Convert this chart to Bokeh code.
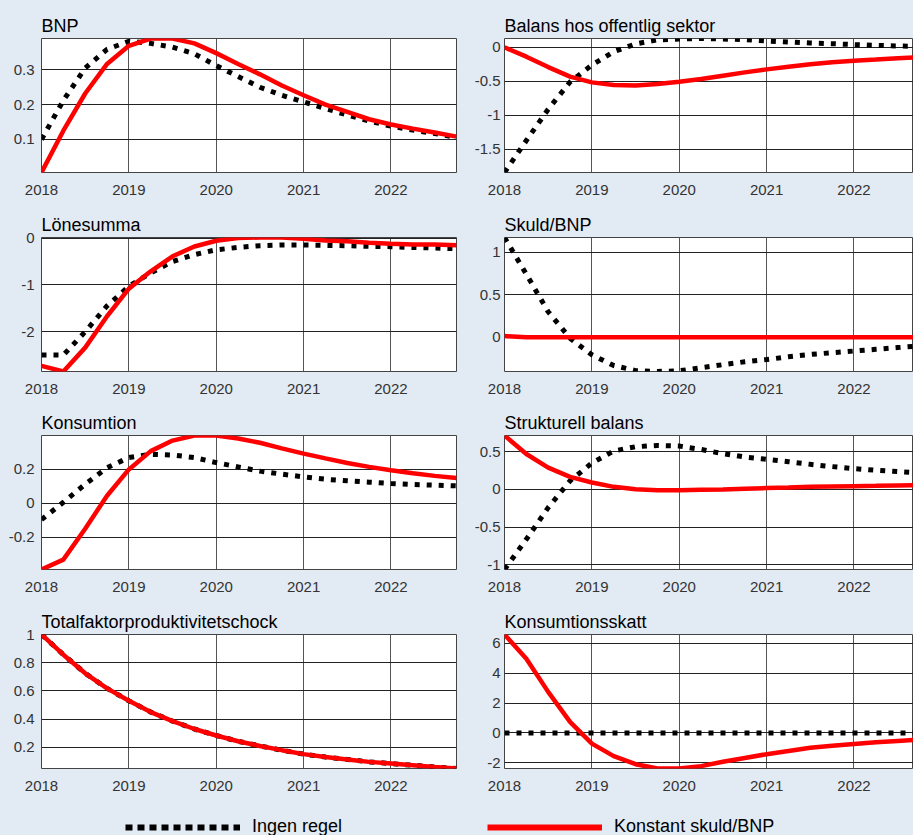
from bokeh.plotting import figure
from bokeh.models import Range1d, Legend, LegendItem
from bokeh.layouts import column, row
from bokeh.embed import file_html
from bokeh.resources import INLINE

BG = "#e2eaf3"
FONT = "Liberation Sans"

quarters = [2018.0, 2018.25, 2018.5, 2018.75, 2019.0, 2019.25, 2019.5, 2019.75,
            2020.0, 2020.25, 2020.5, 2020.75, 2021.0, 2021.25, 2021.5, 2021.75,
            2022.0, 2022.25, 2022.5, 2022.75]
year_ticks = [2018, 2019, 2020, 2021, 2022]
year_labels = ["2018", "2019", "2020", "2021", "2022"]

series_names = ["Ingen regel", "Konstant skuld/BNP"]

# BNP
bnp_ingen = [0.10, 0.212, 0.305, 0.359, 0.382, 0.376, 0.365, 0.346, 0.312, 0.281,
             0.25, 0.227, 0.208, 0.189, 0.17, 0.153, 0.138, 0.127, 0.117, 0.106]
bnp_konst = [0.005, 0.125, 0.232, 0.317, 0.369, 0.39, 0.39, 0.376, 0.348, 0.317,
             0.287, 0.255, 0.227, 0.20, 0.179, 0.158, 0.143, 0.131, 0.12, 0.108]
bnp_ticks = [0.1, 0.2, 0.3]
bnp_tick_labels = ["0.1", "0.2", "0.3"]

# Balans hos offentlig sektor
balans_ingen = [-1.84, -1.37, -0.91, -0.51, -0.26, -0.064, 0.05, 0.11, 0.123, 0.13,
                0.123, 0.113, 0.093, 0.078, 0.064, 0.054, 0.04, 0.03, 0.02, 0.015]
balans_konst = [0.0, -0.137, -0.29, -0.43, -0.515, -0.554, -0.56, -0.54, -0.505, -0.466,
                -0.417, -0.368, -0.324, -0.284, -0.25, -0.22, -0.196, -0.18, -0.16, -0.147]
balans_ticks = [-1.5, -1, -0.5, 0]
balans_tick_labels = ["-1.5", "-1", "-0.5", "0"]

# Lönesumma
lone_ingen = [-2.5, -2.5, -2.0, -1.45, -1.03, -0.745, -0.5, -0.355, -0.25, -0.2,
              -0.163, -0.149, -0.149, -0.156, -0.163, -0.177, -0.184, -0.2, -0.213, -0.227]
lone_konst = [-2.73, -2.85, -2.34, -1.67, -1.08, -0.71, -0.39, -0.18, -0.057, 0.0,
              0.012, 0.012, -0.014, -0.05, -0.07, -0.1, -0.12, -0.135, -0.14, -0.156]
lone_ticks = [-2, -1, 0]
lone_tick_labels = ["-2", "-1", "0"]

# Skuld/BNP
skuld_ingen = [1.17, 0.74, 0.30, -0.01, -0.205, -0.33, -0.39, -0.4, -0.392, -0.355,
               -0.32, -0.286, -0.26, -0.228, -0.2, -0.18, -0.16, -0.14, -0.12, -0.1]
skuld_konst = [0.015, 0.0, 0.0, 0.0, 0.0, 0.0, 0.0, 0.0, 0.0, 0.0,
               0.0, 0.0, 0.0, 0.0, 0.0, 0.0, 0.0, 0.0, 0.0, 0.0]
skuld_ticks = [0, 0.5, 1]
skuld_tick_labels = ["0", "0.5", "1"]

# Konsumtion
kons_ingen = [-0.096, 0.006, 0.113, 0.21, 0.27, 0.289, 0.285, 0.27, 0.24, 0.215,
              0.19, 0.172, 0.156, 0.142, 0.133, 0.125, 0.117, 0.111, 0.107, 0.103]
kons_konst = [-0.39, -0.332, -0.15, 0.045, 0.2, 0.308, 0.37, 0.4, 0.4, 0.382,
              0.357, 0.324, 0.293, 0.265, 0.238, 0.215, 0.195, 0.178, 0.162, 0.15]
kons_ticks = [-0.2, 0, 0.2]
kons_tick_labels = ["-0.2", "0", "0.2"]

# Strukturell balans
strukt_ingen = [-1.06, -0.66, -0.24, 0.114, 0.35, 0.51, 0.566, 0.583, 0.575, 0.53,
                0.474, 0.43, 0.4, 0.368, 0.333, 0.303, 0.276, 0.254, 0.237, 0.22]
strukt_konst = [0.715, 0.47, 0.29, 0.167, 0.092, 0.035, 0.004, -0.009, -0.009, -0.004,
                0.0, 0.009, 0.018, 0.026, 0.035, 0.04, 0.044, 0.048, 0.053, 0.057]
strukt_ticks = [-1, -0.5, 0, 0.5]
strukt_tick_labels = ["-1", "-0.5", "0", "0.5"]

# Totalfaktorproduktivitetschock
tfp_ingen = [1.0, 0.857, 0.725, 0.618, 0.53, 0.45, 0.386, 0.33, 0.284, 0.243,
             0.21, 0.18, 0.152, 0.131, 0.114, 0.097, 0.085, 0.073, 0.061, 0.05]
tfp_konst = [1.0, 0.857, 0.725, 0.618, 0.53, 0.45, 0.386, 0.33, 0.284, 0.243,
             0.21, 0.18, 0.152, 0.131, 0.114, 0.097, 0.085, 0.073, 0.061, 0.05]
tfp_ticks = [0.2, 0.4, 0.6, 0.8, 1]
tfp_tick_labels = ["0.2", "0.4", "0.6", "0.8", "1"]

# Konsumtionsskatt
skatt_ingen = [0.0, 0.0, 0.0, 0.0, 0.0, 0.0, 0.0, 0.0, 0.0, 0.0,
               0.0, 0.0, 0.0, 0.0, 0.0, 0.0, 0.0, 0.0, 0.0, 0.0]
skatt_konst = [6.6, 4.98, 2.75, 0.74, -0.72, -1.56, -2.1, -2.39, -2.39, -2.23,
               -1.94, -1.68, -1.43, -1.21, -1.0, -0.87, -0.74, -0.63, -0.54, -0.45]
skatt_ticks = [-2, 0, 2, 4, 6]
skatt_tick_labels = ["-2", "0", "2", "4", "6"]

BG_STYLE = {"background-color": BG}


def make_panel(title, ingen, konst, yticks, ylabels, col, height, top):
    lo = min(min(ingen), min(konst))
    hi = max(max(ingen), max(konst))
    if col == 0:
        width, left, right, x_end, ystand = 471, 41, 15, 2022.75, 7
    else:
        width, left, right, x_end, ystand = 442, 33, 0, 2022.681, 4
    p = figure(width=width, height=height, title=title,
               x_range=Range1d(2018, x_end), y_range=Range1d(lo, hi),
               toolbar_location=None, output_backend="svg",
               min_border_left=left, min_border_right=right,
               min_border_top=top, min_border_bottom=height - top - 134,
               background_fill_color="white", border_fill_color=BG,
               styles=BG_STYLE)
    p.title.text_font = FONT
    p.title.text_font_size = "18px"
    p.title.text_font_style = "normal"
    p.title.text_color = "black"
    p.title.standoff = 5
    p.outline_line_color = "#444444"
    p.outline_line_width = 1

    p.xaxis.ticker = year_ticks
    p.xaxis.major_label_overrides = dict(zip(year_ticks, year_labels))
    p.yaxis.ticker = yticks
    p.yaxis.major_label_overrides = dict(zip(yticks, ylabels))
    for ax in (p.xaxis, p.yaxis):
        ax.axis_line_color = None
        ax.major_tick_line_color = None
        ax.minor_tick_line_color = None
        ax.major_tick_in = 0
        ax.major_tick_out = 0
        ax.major_label_text_font = FONT
        ax.major_label_text_font_size = "15px"
        ax.major_label_text_color = "#333333"
    p.xaxis.major_label_standoff = 12
    p.yaxis.major_label_standoff = ystand

    p.xgrid.ticker = year_ticks
    p.xgrid.grid_line_color = "#555555"
    p.ygrid.grid_line_color = "#222222"
    p.grid.grid_line_width = 1
    p.grid.grid_line_alpha = 1

    p.line(quarters, ingen, line_color="black", line_width=5, line_dash="5 7")
    p.line(quarters, konst, line_color="#ff0000", line_width=4.5)
    return p


heights = [207, 198, 199, 198]
tops = [38, 30, 30, 30]
p1 = make_panel("BNP", bnp_ingen, bnp_konst, bnp_ticks, bnp_tick_labels, 0, heights[0], tops[0])
p2 = make_panel("Balans hos offentlig sektor", balans_ingen, balans_konst, balans_ticks, balans_tick_labels, 1, heights[0], tops[0])
p3 = make_panel("Lönesumma", lone_ingen, lone_konst, lone_ticks, lone_tick_labels, 0, heights[1], tops[1])
p4 = make_panel("Skuld/BNP", skuld_ingen, skuld_konst, skuld_ticks, skuld_tick_labels, 1, heights[1], tops[1])
p5 = make_panel("Konsumtion", kons_ingen, kons_konst, kons_ticks, kons_tick_labels, 0, heights[2], tops[2])
p6 = make_panel("Strukturell balans", strukt_ingen, strukt_konst, strukt_ticks, strukt_tick_labels, 1, heights[2], tops[2])
p7 = make_panel("Totalfaktorproduktivitetschock", tfp_ingen, tfp_konst, tfp_ticks, tfp_tick_labels, 0, heights[3], tops[3])
p8 = make_panel("Konsumtionsskatt", skatt_ingen, skatt_konst, skatt_ticks, skatt_tick_labels, 1, heights[3], tops[3])

# Legend strip: the sample lines reuse series data, placed outside the strip's visible range
leg = figure(width=913, height=33, x_range=Range1d(0, 1), y_range=Range1d(0, 1),
             x_axis_type=None, y_axis_type=None, min_border=0,
             toolbar_location=None, output_backend="svg",
             outline_line_color=None, background_fill_color=BG, border_fill_color=BG,
             styles=BG_STYLE)
leg.grid.visible = False
r1 = leg.line(quarters, tfp_ingen, line_color="black", line_width=6, line_dash="7 5")
r2 = leg.line(quarters, tfp_konst, line_color="#ff0000", line_width=6)
legend = Legend(items=[LegendItem(label=series_names[0], renderers=[r1]),
                       LegendItem(label=series_names[1], renderers=[r2])],
                orientation="horizontal", location=(125, -2),
                glyph_width=115, glyph_height=20, label_standoff=12, spacing=145,
                padding=0, margin=0, background_fill_alpha=0, border_line_alpha=0,
                label_text_font=FONT, label_text_font_size="18px", label_text_color="black")
leg.add_layout(legend, "center")

layout = column(row(p1, p2, styles=BG_STYLE), row(p3, p4, styles=BG_STYLE),
                row(p5, p6, styles=BG_STYLE), row(p7, p8, styles=BG_STYLE), leg,
                styles=BG_STYLE)

open("out.html", "w").write(file_html(layout, INLINE))
